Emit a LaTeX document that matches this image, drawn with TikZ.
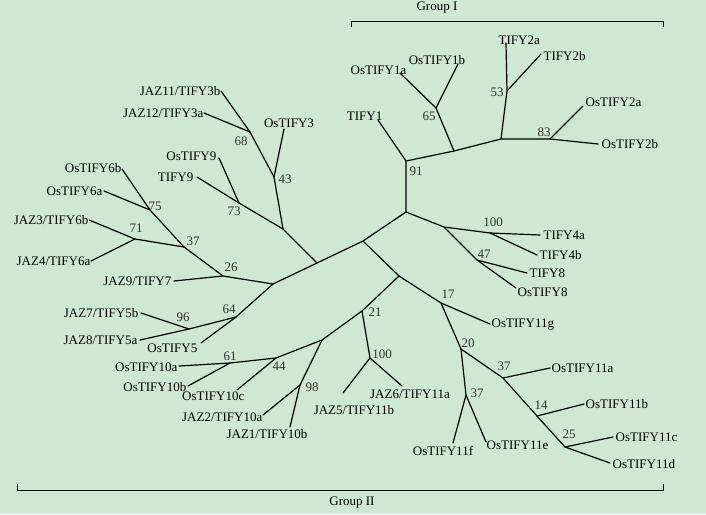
\documentclass[tikz,border=0pt]{standalone}
\usepackage{fontspec}
\setmainfont{Liberation Serif}
\definecolor{bgreen}{RGB}{206,232,209}
\tikzset{
	leaf/.style={inner sep=0.5pt, font=\fontsize{13}{14}\selectfont},
	boot/.style={inner sep=0pt, font=\fontsize{13}{14}\selectfont, text=black!80},
	branch/.style={line width=1.2pt, line cap=round}
}
\begin{document}
\begin{tikzpicture}[x=1pt, y=-1pt]
	\fill[bgreen] (0,0) rectangle (706,514);
	\useasboundingbox (0,0) rectangle (706,514);
	%
	%inner nodes
	\coordinate (root) at (363,241);
	\coordinate (nb) at (317,263);
	\coordinate (nc) at (273,284);
	\coordinate (na) at (283,229);
	\coordinate (n43) at (274,177);
	\coordinate (n68) at (250,132);
	\coordinate (n73) at (239,203);
	\coordinate (n26) at (223,276);
	\coordinate (n37) at (184,247);
	\coordinate (n75) at (150,210);
	\coordinate (n71) at (135,239);
	\coordinate (n64) at (236,317);
	\coordinate (n96) at (189,329);
	\coordinate (ne) at (399,276);
	\coordinate (n21) at (362,311);
	\coordinate (nf) at (322,340);
	\coordinate (n44) at (276,358);
	\coordinate (n61) at (230,363);
	\coordinate (n98) at (300,385);
	\coordinate (n100a) at (370,358);
	\coordinate (nd) at (406,212);
	\coordinate (n91) at (406,161);
	\coordinate (ng) at (454,151);
	\coordinate (n65) at (436,108);
	\coordinate (nh) at (501,139);
	\coordinate (n53) at (507,91);
	\coordinate (n83) at (550,139);
	\coordinate (ni) at (444,227);
	\coordinate (n100b) at (490,233);
	\coordinate (n47) at (477,260);
	\coordinate (n17) at (441,303);
	\coordinate (n20) at (461,349);
	\coordinate (n37b) at (466,395);
	\coordinate (n37c) at (503,378);
	\coordinate (n14) at (537,416);
	\coordinate (n25) at (565,447);
	%
	%tips
	\coordinate (tjaz11) at (221,91);
	\coordinate (tjaz12) at (204,113);
	\coordinate (tos3) at (284,129);
	\coordinate (tos9) at (219,158);
	\coordinate (tt9) at (197,177);
	\coordinate (tos6b) at (122,169);
	\coordinate (tos6a) at (104,191);
	\coordinate (tjaz3) at (89,220);
	\coordinate (tjaz4) at (91,261);
	\coordinate (tjaz9) at (174,281);
	\coordinate (tjaz7) at (141,313);
	\coordinate (tjaz8) at (140,340);
	\coordinate (tos5) at (201,343);
	\coordinate (tos10a) at (179,366);
	\coordinate (tos10b) at (188,386);
	\coordinate (tos10c) at (237,390);
	\coordinate (tjaz2) at (263,415);
	\coordinate (tjaz1) at (290,427);
	\coordinate (tjaz5) at (343,393);
	\coordinate (tjaz6) at (402,386);
	\coordinate (tt1) at (378,120);
	\coordinate (tos1a) at (400,73);
	\coordinate (tos1b) at (458,64);
	\coordinate (tt2a) at (506,43);
	\coordinate (tt2b) at (541,54);
	\coordinate (tos2a) at (583,106);
	\coordinate (tos2b) at (598,144);
	\coordinate (tt4a) at (540,235);
	\coordinate (tt4b) at (537,255);
	\coordinate (tt8) at (527,273);
	\coordinate (tos8) at (516,288);
	\coordinate (tos11g) at (490,324);
	\coordinate (tos11a) at (550,368);
	\coordinate (tos11b) at (584,404);
	\coordinate (tos11c) at (613,437);
	\coordinate (tos11d) at (610,463);
	\coordinate (tos11e) at (486,442);
	\coordinate (tos11f) at (453,443);
	%
	%branches
	\draw[branch] (nc) -- (nb) -- (root) -- (nd) -- (n91) -- (ng) -- (nh) -- (n83) -- (tos2b);
	\draw[branch] (nb) -- (na) -- (n73) -- (tt9);
	\draw[branch] (na) -- (n43) -- (n68) -- (tjaz11);
	\draw[branch] (n68) -- (tjaz12);
	\draw[branch] (n43) -- (tos3);
	\draw[branch] (n73) -- (tos9);
	\draw[branch] (nc) -- (n26) -- (n37) -- (n75) -- (tos6b);
	\draw[branch] (n75) -- (tos6a);
	\draw[branch] (n37) -- (n71) -- (tjaz3);
	\draw[branch] (n71) -- (tjaz4);
	\draw[branch] (n26) -- (tjaz9);
	\draw[branch] (nc) -- (n64) -- (n96) -- (tjaz7);
	\draw[branch] (n96) -- (tjaz8);
	\draw[branch] (n64) -- (tos5);
	\draw[branch] (root) -- (ne) -- (n21) -- (nf) -- (n44) -- (n61) -- (tos10a);
	\draw[branch] (n61) -- (tos10b);
	\draw[branch] (n44) -- (tos10c);
	\draw[branch] (nf) -- (n98) -- (tjaz2);
	\draw[branch] (n98) -- (tjaz1);
	\draw[branch] (n21) -- (n100a) -- (tjaz5);
	\draw[branch] (n100a) -- (tjaz6);
	\draw[branch] (n91) -- (tt1);
	\draw[branch] (ng) -- (n65) -- (tos1a);
	\draw[branch] (n65) -- (tos1b);
	\draw[branch] (nh) -- (n53) -- (tt2a);
	\draw[branch] (n53) -- (tt2b);
	\draw[branch] (n83) -- (tos2a);
	\draw[branch] (nd) -- (ni) -- (n100b) -- (tt4a);
	\draw[branch] (n100b) -- (tt4b);
	\draw[branch] (ni) -- (n47) -- (tt8);
	\draw[branch] (n47) -- (tos8);
	\draw[branch] (ne) -- (n17) -- (tos11g);
	\draw[branch] (n17) -- (n20) -- (n37b) -- (tos11f);
	\draw[branch] (n37b) -- (tos11e);
	\draw[branch] (n20) -- (n37c) -- (tos11a);
	\draw[branch] (n37c) -- (n14) -- (tos11b);
	\draw[branch] (n14) -- (n25) -- (tos11c);
	\draw[branch] (n25) -- (tos11d);
	%
	%leaf labels
	\node[leaf, anchor=east] (ljaz11) at (tjaz11) {JAZ11/TIFY3b};
	\node[leaf, anchor=east] (ljaz12) at (tjaz12) {JAZ12/TIFY3a};
	\node[leaf, anchor=south] (los3) at ([shift={(5,-1)}]tos3) {OsTIFY3};
	\node[leaf, anchor=east] (los9) at ([shift={(-2,-2)}]tos9) {OsTIFY9};
	\node[leaf, anchor=east] (lt9) at ([shift={(-3,0)}]tt9) {TIFY9};
	\node[leaf, anchor=east] (los6b) at ([shift={(0,-1)}]tos6b) {OsTIFY6b};
	\node[leaf, anchor=east] (los6a) at ([shift={(-1,0)}]tos6a) {OsTIFY6a};
	\node[leaf, anchor=east] (ljaz3) at (tjaz3) {JAZ3/TIFY6b};
	\node[leaf, anchor=east] (ljaz4) at (tjaz4) {JAZ4/TIFY6a};
	\node[leaf, anchor=east] (ljaz9) at ([shift={(-2,0)}]tjaz9) {JAZ9/TIFY7};
	\node[leaf, anchor=east] (ljaz7) at ([shift={(-2,0)}]tjaz7) {JAZ7/TIFY5b};
	\node[leaf, anchor=east] (ljaz8) at ([shift={(-2,0)}]tjaz8) {JAZ8/TIFY5a};
	\node[leaf, anchor=east] (los5) at ([shift={(-3,5)}]tos5) {OsTIFY5};
	\node[leaf, anchor=east] (los10a) at ([shift={(-1,1)}]tos10a) {OsTIFY10a};
	\node[leaf, anchor=east] (los10b) at ([shift={(-1,1)}]tos10b) {OsTIFY10b};
	\node[leaf, anchor=north east] (los10c) at ([shift={(8,1)}]tos10c) {OsTIFY10c};
	\node[leaf, anchor=east] (ljaz2) at ([shift={(0,2)}]tjaz2) {JAZ2/TIFY10a};
	\node[leaf, anchor=north] (ljaz1) at ([shift={(-23,2)}]tjaz1) {JAZ1/TIFY10b};
	\node[leaf, anchor=north] (ljaz5) at ([shift={(11,12)}]tjaz5) {JAZ5/TIFY11b};
	\node[leaf, anchor=north] (ljaz6) at ([shift={(8,3)}]tjaz6) {JAZ6/TIFY11a};
	\node[leaf, anchor=south east] (lt1) at ([shift={(5,1)}]tt1) {TIFY1};
	\node[leaf, anchor=east] (los1a) at ([shift={(7,-3)}]tos1a) {OsTIFY1a};
	\node[leaf, anchor=south] (los1b) at ([shift={(-21,1)}]tos1b) {OsTIFY1b};
	\node[leaf, anchor=south west] (lt2a) at ([shift={(-8,2)}]tt2a) {TIFY2a};
	\node[leaf, anchor=west] (lt2b) at ([shift={(2,2)}]tt2b) {TIFY2b};
	\node[leaf, anchor=west] (los2a) at ([shift={(2,-4)}]tos2a) {OsTIFY2a};
	\node[leaf, anchor=west] (los2b) at ([shift={(3,0)}]tos2b) {OsTIFY2b};
	\node[leaf, anchor=west] (lt4a) at ([shift={(3,0)}]tt4a) {TIFY4a};
	\node[leaf, anchor=west] (lt4b) at ([shift={(2,0)}]tt4b) {TIFY4b};
	\node[leaf, anchor=west] (lt8) at ([shift={(2,0)}]tt8) {TIFY8};
	\node[leaf, anchor=west] (los8) at ([shift={(1,4)}]tos8) {OsTIFY8};
	\node[leaf, anchor=west] (los11g) at ([shift={(1,1)}]tos11g) {OsTIFY11g};
	\node[leaf, anchor=west] (los11a) at ([shift={(1,0)}]tos11a) {OsTIFY11a};
	\node[leaf, anchor=west] (los11b) at ([shift={(1,0)}]tos11b) {OsTIFY11b};
	\node[leaf, anchor=west] (los11c) at ([shift={(2,0)}]tos11c) {OsTIFY11c};
	\node[leaf, anchor=west] (los11d) at ([shift={(2,1)}]tos11d) {OsTIFY11d};
	\node[leaf, anchor=west] (los11e) at ([shift={(0,3)}]tos11e) {OsTIFY11e};
	\node[leaf, anchor=north] (los11f) at ([shift={(-10,3)}]tos11f) {OsTIFY11f};
	%
	%bootstrap values
	\node[boot] (b68) at (241,141) {68};
	\node[boot] (b43) at (285,179) {43};
	\node[boot] (b73) at (234,211) {73};
	\node[boot] (b75) at (155,206) {75};
	\node[boot] (b71) at (136,228) {71};
	\node[boot] (b37a) at (193,241) {37};
	\node[boot] (b26) at (231,267) {26};
	\node[boot] (b64) at (229,309) {64};
	\node[boot] (b96) at (183,317) {96};
	\node[boot] (b61) at (230,356) {61};
	\node[boot] (b44) at (279,366) {44};
	\node[boot] (b98) at (312,387) {98};
	\node[boot] (b21) at (375,312) {21};
	\node[boot] (b100a) at (382,354) {100};
	\node[boot] (b91) at (416,171) {91};
	\node[boot] (b65) at (429,116) {65};
	\node[boot] (b53) at (497,92) {53};
	\node[boot] (b83) at (544,132) {83};
	\node[boot] (b100b) at (493,222) {100};
	\node[boot] (b47) at (484,254) {47};
	\node[boot] (b17) at (448,294) {17};
	\node[boot] (b20) at (468,343) {20};
	\node[boot] (b37b) at (477,393) {37};
	\node[boot] (b37c) at (504,366) {37};
	\node[boot] (b14) at (541,405) {14};
	\node[boot] (b25) at (569,434) {25};
	%
	%groups
	\draw[line width=0.8pt] (351,27) -- (351,21) -- (663,21) -- (663,27);
	\node[leaf] (g1) at (437,8) {Group I};
	\draw[line width=0.8pt] (17,484) -- (17,490) -- (663,490) -- (663,484);
	\node[leaf] (g2) at (352,503) {Group II};
\end{tikzpicture}
\end{document}
